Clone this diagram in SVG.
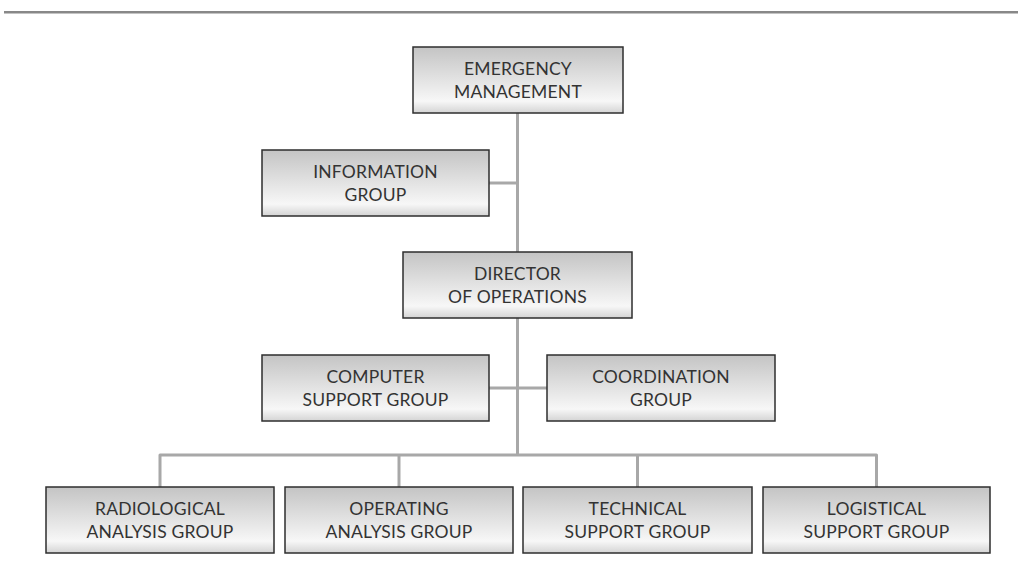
<svg xmlns="http://www.w3.org/2000/svg" width="1018" height="585" viewBox="0 0 1018 585">
<defs>
<linearGradient id="g" x1="0" y1="0" x2="0" y2="1">
<stop offset="0" stop-color="#c4c4c4"/>
<stop offset="0.55" stop-color="#e6e6e6"/>
<stop offset="0.82" stop-color="#f7f7f7"/>
<stop offset="1" stop-color="#d4d4d4"/>
</linearGradient>
<style>
.box{fill:url(#g);stroke:#2e2e2e;stroke-width:1.5}
.t{font-family:Lato,"Liberation Sans",sans-serif;font-size:17.5px;letter-spacing:0.2px;fill:#333;text-anchor:middle}
.c{fill:none;stroke:#a8a8a8;stroke-width:3;stroke-linejoin:round}
</style>
</defs>
<rect width="1018" height="585" fill="#fff"/>
<line x1="4" y1="12.3" x2="1018" y2="12.3" stroke="#888" stroke-width="2.5"/>
<g id="connectors">
<path class="c" d="M517.5 113 V455"/>
<path class="c" d="M489 183 H517.5"/>
<path class="c" d="M489 388 H547"/>
<path class="c" d="M160 487 V455 H876.5 V487"/>
<path class="c" d="M399 455 V487"/>
<path class="c" d="M637.5 455 V487"/>
</g>
<g id="emergency-management">
<rect class="box" x="413" y="47" width="210" height="66"/>
<text class="t" x="518" y="75">EMERGENCY</text>
<text class="t" x="518" y="98">MANAGEMENT</text>
</g>
<g id="information-group">
<rect class="box" x="262" y="150" width="227" height="66"/>
<text class="t" x="375.5" y="178">INFORMATION</text>
<text class="t" x="375.5" y="201">GROUP</text>
</g>
<g id="director">
<rect class="box" x="403" y="252" width="229" height="66"/>
<text class="t" x="517.5" y="280">DIRECTOR</text>
<text class="t" x="517.5" y="303">OF OPERATIONS</text>
</g>
<g id="computer-support">
<rect class="box" x="262" y="355" width="227" height="66"/>
<text class="t" x="375.5" y="383">COMPUTER</text>
<text class="t" x="375.5" y="406">SUPPORT GROUP</text>
</g>
<g id="coordination">
<rect class="box" x="547" y="355" width="228" height="66"/>
<text class="t" x="661" y="383">COORDINATION</text>
<text class="t" x="661" y="406">GROUP</text>
</g>
<g id="radiological">
<rect class="box" x="46" y="487" width="228" height="66"/>
<text class="t" x="160" y="515">RADIOLOGICAL</text>
<text class="t" x="160" y="538">ANALYSIS GROUP</text>
</g>
<g id="operating">
<rect class="box" x="285" y="487" width="228" height="66"/>
<text class="t" x="399" y="515">OPERATING</text>
<text class="t" x="399" y="538">ANALYSIS GROUP</text>
</g>
<g id="technical">
<rect class="box" x="523" y="487" width="229" height="66"/>
<text class="t" x="637.5" y="515">TECHNICAL</text>
<text class="t" x="637.5" y="538">SUPPORT GROUP</text>
</g>
<g id="logistical">
<rect class="box" x="763" y="487" width="227" height="66"/>
<text class="t" x="876.5" y="515">LOGISTICAL</text>
<text class="t" x="876.5" y="538">SUPPORT GROUP</text>
</g>
</svg>
